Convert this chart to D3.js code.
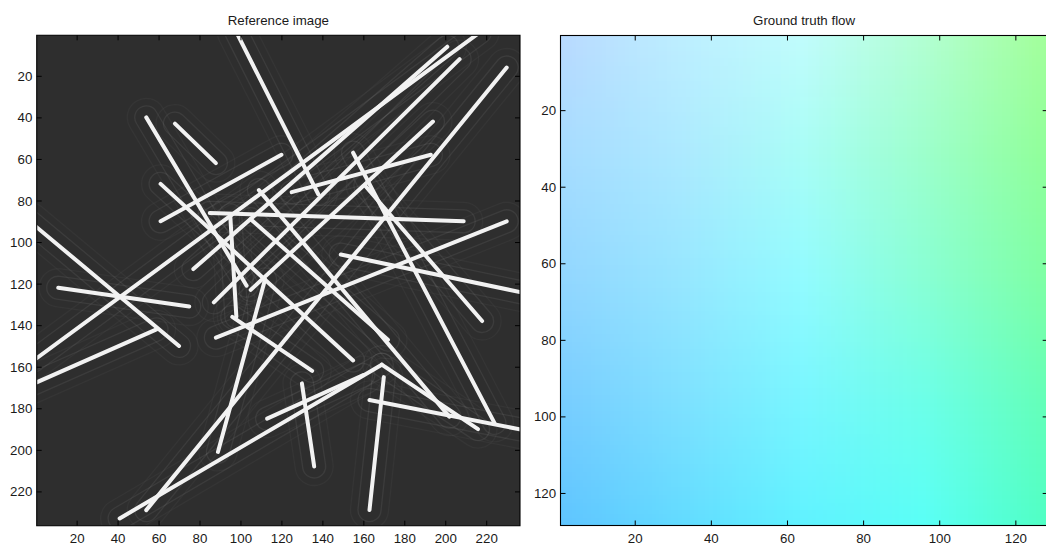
<!DOCTYPE html>
<html>
<head>
<meta charset="utf-8">
<script src="https://cdn.jsdelivr.net/npm/d3@7"></script>
<style>
  html, body { margin: 0; padding: 0; background: #ffffff; }
  svg { display: block; font-family: "Liberation Sans", Arial, Helvetica, sans-serif; }
</style>
</head>
<body>
<svg id="fig" width="1046" height="547"></svg>
<script>
// ---- Line segments of the test image (pixel coordinates of the 236x236 image) ----
const segX1 = [ 98, 217, 201, 207, 230, 194,  68,  54,  61,  61,  11,  -3,  -3,  85,  88,  95,  96,  89, 130, 170, 163,  41, 169, 155, 161, 149, 105, 109, 125, 113];
const segY1 = [ -1,  -1,   6,  12,  16,  42,  43,  40,  72,  90, 122,  90, 169,  86, 146,  87, 136, 201, 168, 165, 176, 233, 159,  57,  73, 106,  89,  75,  76, 185];
const segX2 = [138,  -1,  77,  87,  54, 105,  88, 103, 155, 120,  75,  70,  59, 209, 230,  98, 135, 112, 136, 163, 241, 169, 216, 224, 218, 241, 172, 202, 193, 160];
const segY2 = [ 77, 157, 113, 129, 229, 123,  62, 121, 157,  58, 131, 150, 142,  90,  90, 136, 162, 118, 208, 229, 191, 159, 190, 187, 138, 125, 147, 184,  58, 164];

// ---- Axis ticks ----
const imageTicks = [20, 40, 60, 80, 100, 120, 140, 160, 180, 200, 220];
const flowTicks = [20, 40, 60, 80, 100, 120];

// ---- Flow colour field, sampled on a coarse grid (columns x rows) ----
const flowGridX = [1, 32, 64, 96, 128];
const flowGridY = [1, 32, 64, 96, 128];
const flowRow1   = ["#b9daff", "#bdeeff", "#c0fcfc", "#b2ffd2", "#a2ff9a"];
const flowRow32  = ["#a6dcff", "#ace9ff", "#a8fdf6", "#9cffcc", "#90ff9a"];
const flowRow64  = ["#92d6ff", "#96e6ff", "#92fbff", "#88ffd4", "#7effa4"];
const flowRow96  = ["#78cdff", "#7ee0ff", "#78f6ff", "#6cffe8", "#64ffb8"];
const flowRow128 = ["#5fc5ff", "#62dbff", "#60f2ff", "#5afff6", "#50ffc4"];
const flowGridColors = [flowRow1, flowRow32, flowRow64, flowRow96, flowRow128];
const flowSize = 128;
const imageSize = 236;

const titles = ["Reference image", "Ground truth flow"];

// ---- Layout ----
const panelL = { x0: 36.7, x1: 520.0, y0: 35.3, y1: 525.7 };
const panelR = { x0: 560.5, x1: 1047.7, y0: 35.5, y1: 525.5 };
const fontSize = 13.3;

const svg = d3.select("#fig");
const defs = svg.append("defs");

const xImg = d3.scaleLinear().domain([0.5, imageSize + 0.5]).range([panelL.x0, panelL.x1]);
const yImg = d3.scaleLinear().domain([0.5, imageSize + 0.5]).range([panelL.y0, panelL.y1]);
const xFlow = d3.scaleLinear().domain([0.5, flowSize + 0.5]).range([panelR.x0, panelR.x1]);
const yFlow = d3.scaleLinear().domain([0.5, flowSize + 0.5]).range([panelR.y0, panelR.y1]);

defs.append("clipPath").attr("id", "clipL").append("rect")
  .attr("x", panelL.x0).attr("y", panelL.y0)
  .attr("width", panelL.x1 - panelL.x0).attr("height", panelL.y1 - panelL.y0);
defs.append("clipPath").attr("id", "clipR").append("rect")
  .attr("x", panelR.x0).attr("y", panelR.y0)
  .attr("width", panelR.x1 - panelR.x0).attr("height", panelR.y1 - panelR.y0);

const soft = defs.append("filter").attr("id", "soft")
  .attr("x", "-5%").attr("y", "-5%").attr("width", "110%").attr("height", "110%");
soft.append("feGaussianBlur").attr("stdDeviation", 0.6);
const softer = defs.append("filter").attr("id", "softer")
  .attr("x", "-5%").attr("y", "-5%").attr("width", "110%").attr("height", "110%");
softer.append("feGaussianBlur").attr("stdDeviation", 0.5);

// ---- Left panel: dark image with bright bars and their faint contour rings ----
const segs = segX1.map((d, i) => ({
  x1: xImg(segX1[i]), y1: yImg(segY1[i]), x2: xImg(segX2[i]), y2: yImg(segY2[i])
}));

function capsule(s, r) {
  const dx = s.x2 - s.x1, dy = s.y2 - s.y1, L = Math.hypot(dx, dy);
  const ux = dx / L, uy = dy / L, nx = -uy, ny = ux;
  return `M${s.x1 + nx * r},${s.y1 + ny * r}` +
         `L${s.x2 + nx * r},${s.y2 + ny * r}` +
         `A${r},${r} 0 0 0 ${s.x2 - nx * r},${s.y2 - ny * r}` +
         `L${s.x1 - nx * r},${s.y1 - ny * r}` +
         `A${r},${r} 0 0 0 ${s.x1 + nx * r},${s.y1 + ny * r}Z`;
}

const gL = svg.append("g").attr("clip-path", "url(#clipL)");
gL.append("rect")
  .attr("x", panelL.x0).attr("y", panelL.y0)
  .attr("width", panelL.x1 - panelL.x0).attr("height", panelL.y1 - panelL.y0)
  .attr("fill", "#2e2e2e");

const rings = gL.append("g").attr("filter", "url(#softer)");
rings.selectAll("path.outer").data(segs).join("path")
  .attr("class", "outer")
  .attr("d", d => capsule(d, 19))
  .attr("fill", "none")
  .attr("stroke", "#ffffff").attr("stroke-opacity", 0.03).attr("stroke-width", 1.3);
rings.selectAll("path.inner").data(segs).join("path")
  .attr("class", "inner")
  .attr("d", d => capsule(d, 11.5))
  .attr("fill", "none")
  .attr("stroke", "#ffffff").attr("stroke-opacity", 0.065).attr("stroke-width", 1.3);

gL.append("g").attr("filter", "url(#soft)")
  .selectAll("line").data(segs).join("line")
  .attr("x1", d => d.x1).attr("y1", d => d.y1)
  .attr("x2", d => d.x2).attr("y2", d => d.y2)
  .attr("stroke", "#f2f2f2").attr("stroke-width", 4)
  .attr("stroke-linecap", "round");

// ---- Right panel: flow colour field ----
function flowColor(cx, cy) {
  const ci = Math.min(flowGridX.length - 2, Math.max(0, d3.bisectRight(flowGridX, cx) - 1));
  const ri = Math.min(flowGridY.length - 2, Math.max(0, d3.bisectRight(flowGridY, cy) - 1));
  const tx = (cx - flowGridX[ci]) / (flowGridX[ci + 1] - flowGridX[ci]);
  const ty = (cy - flowGridY[ri]) / (flowGridY[ri + 1] - flowGridY[ri]);
  const top = d3.interpolateRgb(flowGridColors[ri][ci], flowGridColors[ri][ci + 1])(tx);
  const bot = d3.interpolateRgb(flowGridColors[ri + 1][ci], flowGridColors[ri + 1][ci + 1])(tx);
  return d3.interpolateRgb(top, bot)(ty);
}

const cells = [];
for (let r = 1; r <= flowSize; r++) {
  for (let c = 1; c <= flowSize; c++) cells.push({ c, r });
}
const cw = xFlow(1.5) - xFlow(0.5);
const ch = yFlow(1.5) - yFlow(0.5);
svg.append("g").attr("clip-path", "url(#clipR)")
  .attr("shape-rendering", "crispEdges")
  .selectAll("rect").data(cells).join("rect")
  .attr("x", d => xFlow(d.c - 0.5)).attr("y", d => yFlow(d.r - 0.5))
  .attr("width", cw + 0.6).attr("height", ch + 0.6)
  .attr("fill", d => flowColor(d.c, d.r));

// ---- Axes (box, ticks pointing inward on all sides) ----
function drawAxes(p, xs, ys, ticks) {
  const g = svg.append("g");
  const styleAxis = sel => {
    sel.select(".domain").remove();
    sel.selectAll(".tick line").attr("stroke", "#000").attr("stroke-width", 1);
    sel.selectAll(".tick text").attr("fill", "#1a1a1a").style("font-size", fontSize + "px")
      .style("font-family", "'Liberation Sans', Arial, Helvetica, sans-serif");
  };
  g.append("g").attr("transform", `translate(0,${p.y1})`)
    .call(d3.axisBottom(xs).tickValues(ticks).tickSize(-5).tickPadding(7.6))
    .call(styleAxis);
  g.append("g").attr("transform", `translate(0,${p.y0})`)
    .call(d3.axisTop(xs).tickValues(ticks).tickSize(-5).tickFormat(""))
    .call(styleAxis);
  g.append("g").attr("transform", `translate(${p.x0},0)`)
    .call(d3.axisLeft(ys).tickValues(ticks).tickSize(-5).tickPadding(4.4))
    .call(styleAxis)
    .selectAll(".tick text").attr("dy", "0.34em");
  g.append("g").attr("transform", `translate(${p.x1},0)`)
    .call(d3.axisRight(ys).tickValues(ticks).tickSize(-5).tickFormat(""))
    .call(styleAxis);
  g.append("rect")
    .attr("x", p.x0).attr("y", p.y0)
    .attr("width", p.x1 - p.x0).attr("height", p.y1 - p.y0)
    .attr("fill", "none").attr("stroke", "#000").attr("stroke-width", 1.1);
}
drawAxes(panelL, xImg, yImg, imageTicks);
drawAxes(panelR, xFlow, yFlow, flowTicks);

// ---- Titles ----
svg.selectAll("text.title").data([panelL, panelR]).join("text")
  .attr("class", "title")
  .attr("x", d => (d.x0 + d.x1) / 2).attr("y", 25)
  .attr("text-anchor", "middle")
  .attr("fill", "#1a1a1a")
  .style("font-size", fontSize + "px")
  .text((d, i) => titles[i]);
</script>
</body>
</html>
